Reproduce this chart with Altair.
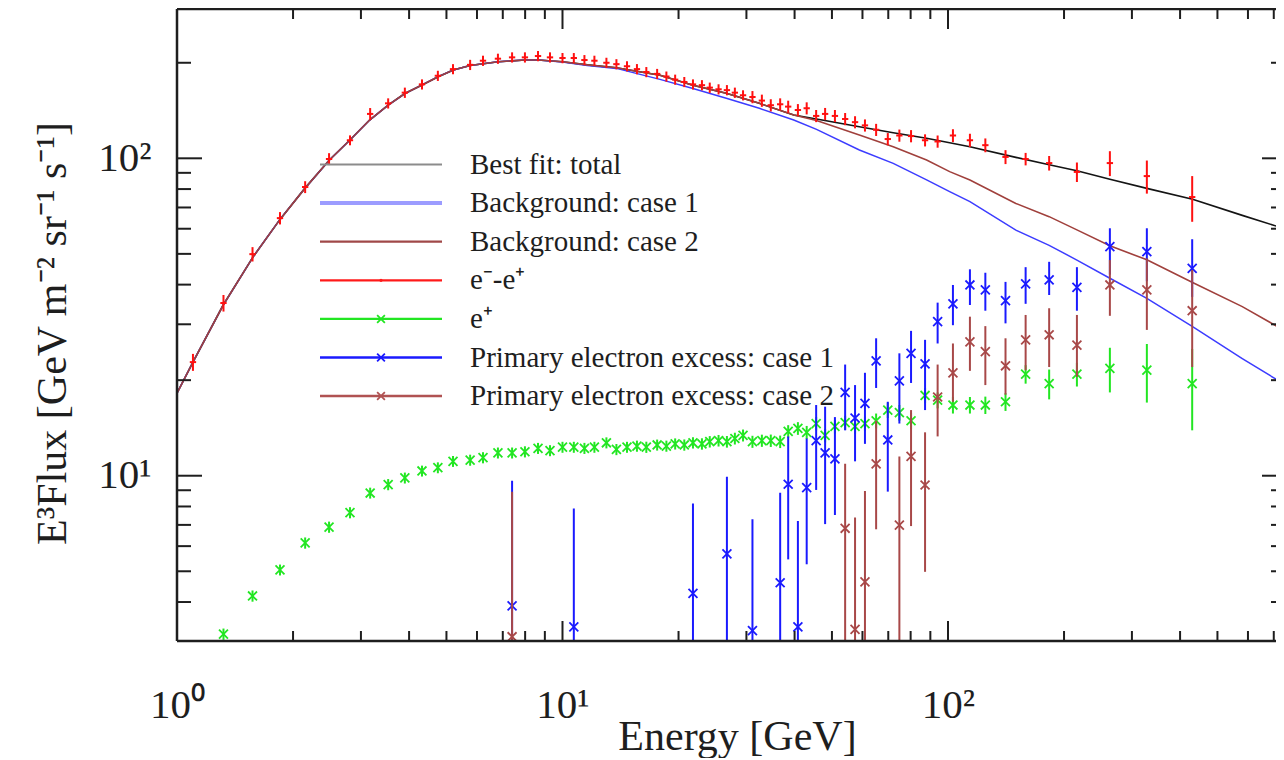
import altair as alt
import pandas as pd

# ---------------- data ----------------
# e- - e+ (red points)
TOT_E = [1.10, 1.32, 1.57, 1.85, 2.15, 2.48, 2.81, 3.17, 3.53, 3.90,
         4.32, 4.75, 5.20, 5.76, 6.22, 6.80, 7.40, 7.99, 8.64, 9.28,
         10.0, 10.7, 11.4, 12.1, 13.0, 13.8, 14.7, 15.6, 16.5, 17.6,
         18.6, 19.6, 20.7, 21.8, 23.0, 24.1, 25.4, 26.7, 28.0, 29.4,
         31.1, 32.9, 34.7, 36.7, 38.5, 40.8, 43.0, 45.5, 48.0, 50.9,
         54.1, 57.4, 60.9, 65.1, 69.8, 74.8, 80.2, 87.2, 94.0, 103,
         114, 125, 141, 159, 183, 216, 263, 328, 430]
TOT_F = [22.8, 35.0, 49.9, 64.8, 81.2, 99.5, 114, 138, 149, 161,
         171, 182, 191, 197, 203, 206, 208, 208, 210, 208,
         207, 207, 204, 203, 200, 198, 195, 191, 187, 184.5,
         181, 177, 174, 171, 170, 167, 165, 164, 161, 158,
         156, 152, 147, 148, 145.5, 142, 143.8, 136, 138, 136,
         133, 130, 127, 123, 115, 118, 117.5, 114, 113, 118,
         114, 110, 101, 99.5, 96.6, 90.6, 96.6, 87.9, 75.5]
TOT_ERR = [1.4, 2.1, 2.6, 2.9, 3.5, 4.3, 4.1, 6.0, 5.5, 6.0,
           6.3, 6.7, 7.0, 7.3, 7.5, 7.6, 7.7, 7.7, 7.8, 7.7,
           7.7, 7.6, 7.5, 7.5, 7.4, 7.3, 7.2, 7.1, 6.9, 6.8,
           6.7, 6.5, 6.4, 6.3, 6.3, 6.2, 6.1, 6.1, 6.0, 5.8,
           6.9, 6.7, 6.5, 6.5, 6.4, 6.2, 6.3, 6.0, 6.1, 6.0,
           5.9, 5.7, 5.6, 5.4, 5.1, 5.2, 5.2, 5.0, 5.0, 5.5,
           5.5, 5.5, 5.1, 4.5, 5.1, 6.4, 8.7, 10.5, 12.4]

# e+ (green points)
POS_E = TOT_E[1:]
POS_F = [3.17, 4.18, 5.05, 6.14, 6.89, 7.65, 8.82, 9.38, 9.84, 10.35,
         10.6, 11.1, 11.2, 11.4, 11.8, 11.8, 11.9, 12.2, 12.0, 12.3,
         12.3, 12.2, 12.3, 12.7, 12.1, 12.3, 12.4, 12.3, 12.5, 12.4,
         12.6, 12.5, 12.7, 12.6, 12.8, 12.9, 12.8, 13.1, 13.4, 12.8,
         12.9, 12.9, 12.8, 13.8, 14.1, 13.7, 14.6, 13.4, 14.3, 14.7,
         14.3, 14.6, 14.9, 16.1, 15.8, 14.9, 17.9, 17.3, 16.7, 16.7,
         16.7, 17.1, 20.9, 19.5, 20.9, 21.8, 21.5, 19.5]
POS_ERR = [0.13, 0.17, 0.20, 0.25, 0.28, 0.31, 0.35, 0.38, 0.39, 0.41,
           0.42, 0.44, 0.45, 0.46, 0.47, 0.47, 0.48, 0.49, 0.48, 0.49,
           0.49, 0.49, 0.49, 0.51, 0.49, 0.49, 0.50, 0.50, 0.50, 0.50,
           0.51, 0.51, 0.52, 0.52, 0.53, 0.54, 0.54, 0.56, 0.58, 0.56,
           0.57, 0.58, 0.58, 0.63, 0.65, 0.65, 0.70, 0.66, 0.72, 0.75,
           0.75, 0.78, 0.80, 0.90, 0.90, 0.90, 1.0, 1.0, 1.0, 1.0,
           1.05, 1.1, 1.4, 2.1, 1.8, 3.5, 4.5, 5.6]

# Primary electron excess, case 1 (blue)   lo = 1.0 : bar runs below the frame
EX1_E = [7.40, 10.7, 21.8, 26.7, 31.1, 36.7, 38.5, 40.8, 43.0, 45.5,
         48.0, 50.9, 54.1, 57.4, 60.9, 65.1, 69.8, 74.8, 80.2, 87.2,
         94.0, 103, 114, 125, 141, 159, 183, 216, 263, 328, 430]
EX1_F = [3.89, 3.34, 4.26, 5.67, 3.25, 4.60, 9.40, 3.34, 9.17, 12.9,
         11.8, 11.3, 18.3, 15.2, 16.9, 23.0, 12.96, 19.9, 24.3, 22.5,
         30.6, 34.8, 39.9, 38.5, 35.6, 40.2, 41.4, 39.2, 52.7, 50.8, 45.0]
EX1_LO = [1.0, 1.0, 1.0, 1.0, 1.0, 1.0, 5.45, 1.0, 5.26, 9.02,
          7.04, 7.52, 13.9, 11.1, 12.6, 18.9, 8.91, 14.6, 19.6, 16.1,
          26.1, 29.8, 34.5, 33.1, 30.2, 34.8, 37.1, 33.1, 43.0, 41.0, 36.6]
EX1_HI = [9.64, 7.89, 8.18, 9.93, 7.29, 8.84, 13.3, 7.20, 13.1, 16.7,
          16.5, 15.3, 22.4, 19.3, 21.1, 27.1, 17.1, 24.3, 28.6, 26.8,
          35.1, 39.9, 44.7, 43.6, 40.8, 45.4, 47.2, 45.4, 60.2, 60.2, 55.6]

# Primary electron excess, case 2 (brown)
EX2_E = [7.40, 54.1, 57.4, 60.9, 65.1, 74.8, 80.2, 87.2, 94.0, 103,
         114, 125, 141, 159, 183, 216, 263, 328, 430]
EX2_F = [3.11, 6.83, 3.28, 4.63, 10.9, 6.99, 11.5, 9.35, 17.7, 21.1,
         26.4, 24.6, 22.2, 26.8, 27.8, 25.8, 39.9, 38.5, 33.1]
EX2_LO = [1.0, 1.0, 1.0, 1.0, 6.78, 1.0, 6.94, 4.98, 13.3, 17.1,
          21.4, 19.3, 18.0, 21.5, 22.0, 20.5, 31.9, 28.8, 22.0]
EX2_HI = [8.91, 10.9, 7.38, 8.95, 14.9, 11.5, 16.1, 13.7, 22.4, 26.1,
          31.7, 29.6, 27.1, 32.1, 33.7, 32.1, 47.8, 48.4, 44.5]

# model curves
FIT_E = [1.0, 1.1, 1.318, 1.577, 1.85, 2.146, 2.485, 2.81, 3.16, 3.53,
         3.9, 4.31, 4.76, 5.21, 5.76, 6.81, 8.0, 8.65, 10.0, 11.6,
         13.8, 17.9, 21.8, 26.6, 32.4, 39.8, 45.6, 58.9, 72.1, 88.0,
         101, 114, 150, 183, 216, 263, 328, 431, 580, 741]
FIT_TOTAL = [18.2, 22.8, 34.5, 49.0, 64.2, 80.4, 98.8, 114.2, 132, 147,
             160, 170, 180.8, 189.7, 196, 201.5, 204, 204, 201.5, 197,
             193, 182.7, 170, 160.4, 149, 137, 133, 125.8, 120.4, 115.6,
             112, 108.8, 100.7, 95.5, 91.4, 85.9, 80.4, 74.3, 66.1, 60.2]
FIT_BG1 = [18.2, 22.8, 34.5, 49.0, 64.2, 80.4, 98.8, 114.2, 132, 147,
           160, 170, 180.8, 189.7, 196, 201.5, 204, 204, 201, 196,
           192, 177.3, 166, 154.6, 143.7, 132, 123.4, 106.2, 96.4, 85.5,
           78.5, 73.0, 59.4, 53.2, 47.8, 41.9, 36.2, 29.5, 23.4, 19.5]
FIT_BG2 = [18.2, 22.8, 34.5, 49.0, 64.2, 80.4, 98.8, 114.2, 132, 147,
           160, 170, 180.8, 189.7, 196, 201.5, 204, 204, 201.5, 197,
           193, 182.7, 170, 160.4, 149, 137, 131.5, 118.4, 108.8, 98.8,
           90.8, 85.4, 72.1, 65.5, 59.5, 53.0, 47.9, 40.6, 34.1, 28.8]

# legend
LEG_LABELS = ["Best fit: total", "Background: case 1", "Background: case 2",
              "e\u207b-e\u207a", "e\u207a",
              "Primary electron excess: case 1", "Primary electron excess: case 2"]
LEG_COLORS = ["#8c8c8c", "#9c9cff", "#a04848", "#ff1a1a", "#22e622", "#1a1aff", "#b05252"]
LEG_WIDTHS = [2.2, 4.0, 2.2, 2.2, 2.2, 2.5, 2.5]
LEG_MARK = ["none", "none", "none", "dot", "x", "x", "x"]

# axis ticks
X_MAJOR = [10, 100]
X_MINOR = [2, 3, 4, 5, 6, 7, 8, 9, 20, 30, 40, 50, 60, 70, 80, 90, 200, 300, 400, 500, 600, 700]
Y_MAJOR = [10, 100]
Y_MINOR = [4, 5, 6, 7, 8, 9, 20, 30, 40, 50, 60, 70, 80, 90, 200]

# ---------------- layout / style ----------------
W, H = 1099, 632
FONT = "Liberation Serif"
INK = "#1e1e1e"
XS = alt.Scale(type="log", domain=[1.0, 709.4], nice=False)
YS = alt.Scale(type="log", domain=[3.015, 295.4], nice=False)
XPATH = "M-1,-1L1,1M-1,1L1,-1"

xaxis = alt.Axis(values=[1, 10, 100],
                 labelExpr="datum.value == 1 ? '10\u2070' : (datum.value == 10 ? '10\u00b9' : '10\u00b2')",
                 ticks=False, tickSize=0, domain=False, grid=False, labelFlush=False,
                 labelFont=FONT, labelFontSize=41, labelColor=INK, labelPadding=44,
                 title="Energy [GeV]", titleFont=FONT, titleFontSize=42, titleFontWeight="normal",
                 titleColor=INK, titleX=560, titleY=108, titleAlign="center",
                 titleBaseline="alphabetic", titleAnchor="start")
yaxis = alt.Axis(values=[10, 100],
                 labelExpr="datum.value == 10 ? '10\u00b9' : '10\u00b2'",
                 ticks=False, tickSize=0, domain=False, grid=False,
                 labelFont=FONT, labelFontSize=41, labelColor=INK, labelPadding=26,
                 labelBaseline="middle",
                 title="E\u00b3Flux [GeV m\u207b\u00b2 sr\u207b\u00b9 s\u207b\u00b9]",
                 titleFont=FONT, titleFontSize=42, titleFontWeight="normal", titleColor=INK,
                 titleX=-112, titleY=324, titleAngle=270, titleAlign="center",
                 titleBaseline="alphabetic", titleAnchor="start")


def X(field):
    return alt.X(field, type="quantitative", scale=XS, axis=xaxis)


def Y(field):
    return alt.Y(field, type="quantitative", scale=YS, axis=yaxis)


# ---------------- tables ----------------
fit = pd.DataFrame({"E": FIT_E, "total": FIT_TOTAL, "bg1": FIT_BG1, "bg2": FIT_BG2})
tot = pd.DataFrame({"E": TOT_E, "F": TOT_F, "err": TOT_ERR})
tot["lo"] = tot["F"] - tot["err"]
tot["hi"] = tot["F"] + tot["err"]
pos = pd.DataFrame({"E": POS_E, "F": POS_F, "err": POS_ERR})
pos["lo"] = pos["F"] - pos["err"]
pos["hi"] = pos["F"] + pos["err"]
ex1 = pd.DataFrame({"E": EX1_E, "F": EX1_F, "lo": EX1_LO, "hi": EX1_HI})
ex2 = pd.DataFrame({"E": EX2_E, "F": EX2_F, "lo": EX2_LO, "hi": EX2_HI})
one = pd.DataFrame({"k": [0]})

layers = []

# model curves
for col, color, w in [("total", "#141414", 1.6), ("bg1", "#3c3cff", 1.5), ("bg2", "#a0403c", 1.6)]:
    layers.append(alt.Chart(fit).mark_line(color=color, strokeWidth=w, clip=True)
                  .encode(x=X("E"), y=Y(col)))


def points(df, color, shape, size, sw):
    bars = alt.Chart(df).mark_rule(color=color, strokeWidth=2, clip=True).encode(
        x=X("E"), y=Y("lo"), y2="hi")
    mk = alt.Chart(df).mark_point(shape=shape, size=size, color=color, filled=False,
                                  strokeWidth=sw, opacity=1, clip=True).encode(x=X("E"), y=Y("F"))
    return [bars, mk]


layers += points(pos, "#22e622", XPATH, 80, 1.8)
layers += points(ex1, "#1a1aff", XPATH, 80, 1.8)
layers += points(ex2, "#a84848", XPATH, 80, 1.8)
layers += points(tot, "#ff1010", "M-1,0L1,0", 40, 2.0)

# frame (left, top, bottom) and inward ticks
fr = dict(color=INK, strokeWidth=2.5)
layers.append(alt.Chart(one).mark_rule(**fr).encode(x=alt.value(0), y=alt.value(0), y2=alt.value(H)))
layers.append(alt.Chart(one).mark_rule(**fr).encode(x=alt.value(0), x2=alt.value(W), y=alt.value(0)))
layers.append(alt.Chart(one).mark_rule(**fr).encode(x=alt.value(0), x2=alt.value(W), y=alt.value(H)))

tk = dict(color=INK, strokeWidth=2)
xmaj = pd.DataFrame({"v": X_MAJOR})
xmin = pd.DataFrame({"v": X_MINOR})
ymaj = pd.DataFrame({"v": Y_MAJOR})
ymin = pd.DataFrame({"v": Y_MINOR})
layers.append(alt.Chart(xmaj).mark_rule(**tk).encode(x=X("v"), y=alt.value(H), y2=alt.value(H - 20)))
layers.append(alt.Chart(xmin).mark_rule(**tk).encode(x=X("v"), y=alt.value(H), y2=alt.value(H - 10)))
layers.append(alt.Chart(xmaj).mark_rule(**tk).encode(x=X("v"), y=alt.value(0), y2=alt.value(20)))
layers.append(alt.Chart(xmin).mark_rule(**tk).encode(x=X("v"), y=alt.value(0), y2=alt.value(10)))
layers.append(alt.Chart(ymaj).mark_rule(**tk).encode(y=Y("v"), x=alt.value(0), x2=alt.value(25)))
layers.append(alt.Chart(ymin).mark_rule(**tk).encode(y=Y("v"), x=alt.value(0), x2=alt.value(14)))
layers.append(alt.Chart(ymaj).mark_rule(**tk).encode(y=Y("v"), x=alt.value(W), x2=alt.value(W - 14)))
layers.append(alt.Chart(ymin).mark_rule(**tk).encode(y=Y("v"), x=alt.value(W), x2=alt.value(W - 5)))

inner = alt.layer(*layers)

# ---------------- legend (own row scale) ----------------
leg = pd.DataFrame({"label": LEG_LABELS, "row": list(range(len(LEG_LABELS))),
                    "c": LEG_COLORS, "w": LEG_WIDTHS, "m": LEG_MARK})
LY = alt.Y("row:Q", scale=alt.Scale(domain=[0, 6], range=[155.5, 387.1]), axis=None)
leg_lines = alt.Chart(leg).mark_rule().encode(
    y=LY, x=alt.value(143), x2=alt.value(265),
    color=alt.Color("c:N", scale=None), strokeWidth=alt.StrokeWidth("w:Q", scale=None))
leg_x = alt.Chart(leg).transform_filter("datum.m == 'x'").mark_point(
    shape=XPATH, size=60, filled=False, strokeWidth=1.8, opacity=1).encode(
    y=LY, x=alt.value(204), color=alt.Color("c:N", scale=None))
leg_dot = alt.Chart(leg).transform_filter("datum.m == 'dot'").mark_point(
    shape="circle", size=10, filled=True, opacity=1).encode(
    y=LY, x=alt.value(204), color=alt.Color("c:N", scale=None))
leg_text = alt.Chart(leg).mark_text(align="left", baseline="middle", font=FONT,
                                    fontSize=29, color=INK).encode(
    y=LY, x=alt.value(293), text="label:N")
legend = alt.layer(leg_lines, leg_x, leg_dot, leg_text)

chart = (alt.layer(inner, legend)
         .resolve_scale(y="independent")
         .properties(width=W, height=H, autosize=alt.AutoSizeParams(type="none"),
                     padding={"left": 169, "top": 1, "right": 0, "bottom": 117})
         .configure_view(stroke=None)
         .configure(background="white"))

chart.save("out.html", embed_options={"renderer": "svg", "actions": False})
